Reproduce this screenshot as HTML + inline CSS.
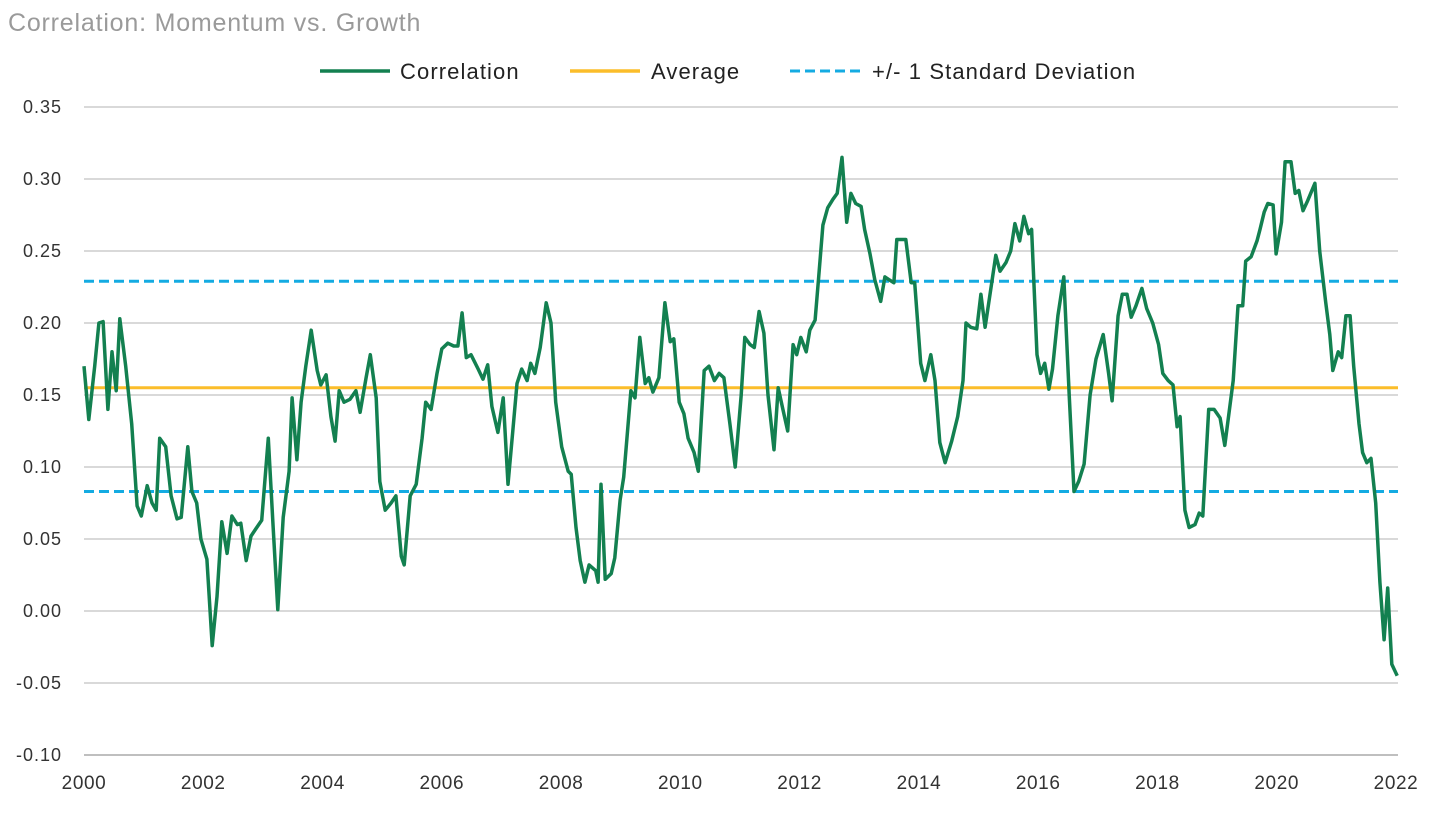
<!DOCTYPE html>
<html><head><meta charset="utf-8"><style>
body{margin:0;background:#fff;width:1440px;height:812px;overflow:hidden;font-family:"Liberation Sans",sans-serif}
</style></head><body>
<svg id="chart" width="1440" height="812" xmlns="http://www.w3.org/2000/svg" font-family="Liberation Sans, sans-serif">
<text x="8" y="31" font-size="25" letter-spacing="0.8" fill="#9a9a9a">Correlation: Momentum vs. Growth</text>
<g font-size="22" letter-spacing="1.1" fill="#222">
<g><line x1="320" y1="71" x2="390" y2="71" stroke="#138050" stroke-width="3.5"/><text x="400" y="79">Correlation</text></g>
<g><line x1="570" y1="71" x2="640" y2="71" stroke="#fbbd2a" stroke-width="3.5"/><text x="651" y="79">Average</text></g>
<g><line x1="790" y1="71" x2="862" y2="71" stroke="#14abe2" stroke-width="3" stroke-dasharray="10,5"/><text x="872" y="79">+/- 1 Standard Deviation</text></g>
</g>
<g id="grid"></g>
<g id="yaxis" font-size="18" letter-spacing="1" fill="#333"></g>
<g id="xaxis" font-size="19" letter-spacing="0.6" fill="#333"></g>
<g id="series"></g>
</svg>
<script>
const yTicks=[-0.10,-0.05,0.00,0.05,0.10,0.15,0.20,0.25,0.30,0.35];
const xTicks=[2000,2002,2004,2006,2008,2010,2012,2014,2016,2018,2020,2022];
const average=0.155;
const stdUpper=0.229;
const stdLower=0.083;
const years=[0,.08,.18,.25,.32,.40,.47,.54,.60,.70,.80,.89,.96,1.06,1.14,1.21,1.27,1.37,1.46,1.56,1.63,1.74,1.81,1.89,1.96,2.06,2.15,2.23,2.31,2.40,2.48,2.57,2.63,2.72,2.80,2.88,2.98,3.09,3.17,3.25,3.34,3.44,3.49,3.57,3.64,3.72,3.81,3.91,3.97,4.06,4.14,4.21,4.28,4.36,4.46,4.56,4.63,4.73,4.80,4.90,4.96,5.05,5.15,5.23,5.32,5.37,5.47,5.57,5.67,5.73,5.82,5.92,6.00,6.10,6.20,6.27,6.34,6.41,6.49,6.61,6.69,6.77,6.84,6.94,7.03,7.11,7.19,7.26,7.34,7.43,7.49,7.56,7.65,7.75,7.83,7.91,8.01,8.12,8.17,8.25,8.32,8.40,8.47,8.58,8.62,8.67,8.74,8.84,8.90,8.99,9.05,9.17,9.24,9.32,9.41,9.47,9.54,9.64,9.74,9.83,9.89,9.98,10.06,10.13,10.23,10.30,10.40,10.48,10.57,10.65,10.73,10.83,10.92,11.02,11.08,11.17,11.24,11.32,11.40,11.47,11.57,11.64,11.72,11.80,11.89,11.95,12.02,12.11,12.17,12.26,12.32,12.39,12.47,12.56,12.63,12.71,12.79,12.86,12.94,13.03,13.09,13.18,13.26,13.36,13.43,13.50,13.58,13.63,13.78,13.87,13.93,14.03,14.10,14.20,14.27,14.35,14.44,14.55,14.65,14.74,14.79,14.87,14.97,15.04,15.11,15.21,15.29,15.36,15.46,15.54,15.61,15.69,15.76,15.84,15.89,15.98,16.04,16.11,16.18,16.24,16.33,16.43,16.52,16.60,16.68,16.77,16.87,16.97,17.09,17.18,17.24,17.34,17.41,17.49,17.56,17.64,17.74,17.82,17.92,18.02,18.09,18.18,18.26,18.33,18.38,18.46,18.53,18.63,18.70,18.76,18.86,18.95,19.05,19.13,19.27,19.35,19.43,19.48,19.57,19.67,19.72,19.79,19.85,19.94,19.99,20.08,20.14,20.24,20.31,20.37,20.44,20.52,20.64,20.72,20.82,20.89,20.94,21.03,21.09,21.16,21.23,21.29,21.38,21.44,21.51,21.58,21.66,21.73,21.80,21.86,21.93,22.02];
const values=[0.170,0.133,0.170,0.200,0.201,0.140,0.180,0.153,0.203,0.170,0.130,0.073,0.066,0.087,0.075,0.070,0.120,0.114,0.080,0.064,0.065,0.114,0.083,0.075,0.050,0.036,-0.024,0.010,0.062,0.040,0.066,0.060,0.061,0.035,0.052,0.057,0.063,0.120,0.060,0.001,0.065,0.097,0.148,0.105,0.145,0.170,0.195,0.167,0.157,0.164,0.135,0.118,0.153,0.145,0.147,0.153,0.138,0.162,0.178,0.148,0.090,0.070,0.075,0.080,0.038,0.032,0.080,0.088,0.120,0.145,0.140,0.165,0.182,0.186,0.184,0.184,0.207,0.176,0.178,0.168,0.161,0.171,0.142,0.124,0.148,0.088,0.125,0.158,0.168,0.160,0.172,0.165,0.183,0.214,0.200,0.145,0.114,0.097,0.095,0.058,0.035,0.020,0.032,0.028,0.020,0.088,0.022,0.026,0.037,0.077,0.093,0.153,0.148,0.190,0.158,0.162,0.152,0.162,0.214,0.187,0.189,0.145,0.137,0.120,0.110,0.097,0.167,0.170,0.160,0.165,0.162,0.130,0.100,0.150,0.190,0.185,0.183,0.208,0.193,0.150,0.112,0.155,0.140,0.125,0.185,0.178,0.190,0.180,0.195,0.202,0.232,0.268,0.280,0.286,0.290,0.315,0.270,0.290,0.283,0.281,0.265,0.248,0.230,0.215,0.232,0.230,0.228,0.258,0.258,0.228,0.228,0.172,0.160,0.178,0.160,0.117,0.103,0.118,0.135,0.160,0.200,0.197,0.196,0.220,0.197,0.225,0.247,0.236,0.242,0.250,0.269,0.257,0.274,0.262,0.265,0.178,0.165,0.172,0.154,0.168,0.205,0.232,0.150,0.083,0.090,0.102,0.150,0.175,0.192,0.165,0.146,0.205,0.220,0.220,0.204,0.212,0.224,0.210,0.200,0.185,0.165,0.160,0.157,0.128,0.135,0.070,0.058,0.060,0.068,0.066,0.140,0.140,0.134,0.115,0.160,0.212,0.212,0.243,0.246,0.257,0.265,0.277,0.283,0.282,0.248,0.270,0.312,0.312,0.290,0.292,0.278,0.285,0.297,0.250,0.215,0.192,0.167,0.180,0.176,0.205,0.205,0.170,0.130,0.110,0.103,0.106,0.075,0.020,-0.020,0.016,-0.037,-0.045];

const NS='http://www.w3.org/2000/svg';
const X0=84,X1=1396,Y0=755,Y1=107;
function xScale(yr){return X0+(yr-2000)/(2022-2000)*(X1-X0);}
function yScale(v){return Y0-(v-(-0.10))/(0.35-(-0.10))*(Y0-Y1);}
function mk(tag,attrs,parent){const e=document.createElementNS(NS,tag);for(const k in attrs)e.setAttribute(k,attrs[k]);parent.appendChild(e);return e;}
const grid=document.getElementById('grid'),ya=document.getElementById('yaxis'),xa=document.getElementById('xaxis'),ser=document.getElementById('series');
yTicks.forEach((t,i)=>{
  const y=yScale(t);
  const l=mk('line',{x1:X0,x2:1398,y1:y,y2:y,stroke:i===0?'#bfbfbf':'#d9d9d9','stroke-width':2},grid);
  
  
  const tx=mk('text',{x:62,y:y+6,'text-anchor':'end'},ya);
  
  
  tx.textContent=t.toFixed(2);
});
xTicks.forEach(t=>{
  const tx=mk('text',{x:xScale(t),y:789,'text-anchor':'middle'},xa);
  
  
  tx.textContent=t;
});
const su=mk('line',{x1:X0,x2:1398,y1:yScale(stdUpper),y2:yScale(stdUpper),stroke:'#14abe2','stroke-width':3,'stroke-dasharray':'10,5'},ser);


const sl=mk('line',{x1:X0,x2:1398,y1:yScale(stdLower),y2:yScale(stdLower),stroke:'#14abe2','stroke-width':3,'stroke-dasharray':'10,5'},ser);


const av=mk('line',{x1:X0,x2:1398,y1:yScale(average),y2:yScale(average),stroke:'#fbbd2a','stroke-width':3},ser);


const pts=values.map((v,i)=>xScale(2000+years[i]).toFixed(1)+','+yScale(v).toFixed(1)).join(' ');
const pl=mk('polyline',{points:pts,fill:'none',stroke:'#138050','stroke-width':3.5,'stroke-linejoin':'round'},ser);


</script>
</body></html>
